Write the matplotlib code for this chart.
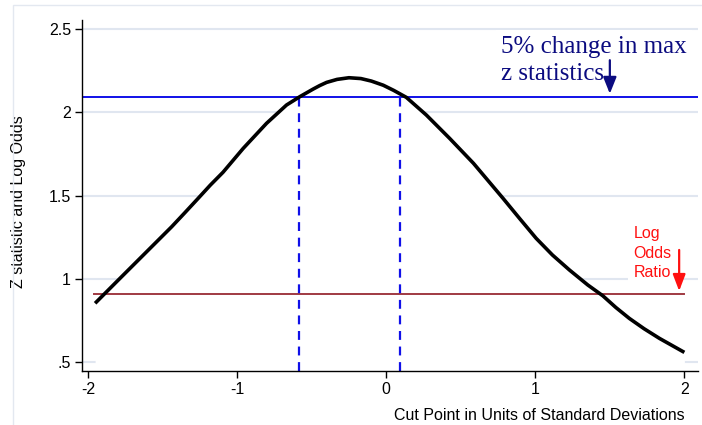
import matplotlib
matplotlib.use("Agg")
import matplotlib.pyplot as plt
from matplotlib.patches import Rectangle

# curve
cut_x = [-1.953, -1.797, -1.618, -1.439, -1.350, -1.261, -1.180, -1.095, -0.959,
         -0.803, -0.669, -0.580, -0.490, -0.446, -0.400, -0.330, -0.250, -0.170,
         -0.100, -0.020, 0.050, 0.135, 0.269, 0.425, 0.585, 0.783, 0.895, 1.006,
         1.115, 1.229, 1.352, 1.453, 1.540, 1.631, 1.730, 1.833, 2.000]
z_stat = [0.853, 0.993, 1.153, 1.313, 1.398, 1.484, 1.563, 1.640, 1.784,
          1.934, 2.044, 2.094, 2.140, 2.161, 2.180, 2.198, 2.208, 2.203,
          2.188, 2.163, 2.132, 2.090, 1.984, 1.844, 1.694, 1.484, 1.362, 1.243,
          1.143, 1.053, 0.963, 0.898, 0.828, 0.762, 0.700, 0.642, 0.558]

z_cut = 2.095          # 5% below max
log_odds = 0.91
cut_lo, cut_hi = -0.585, 0.09
odds_x = [-1.96, 2.0]

x_ticks = [-2, -1, 0, 1, 2]
x_labels = ["-2", "-1", "0", "1", "2"]
y_ticks = [0.5, 1, 1.5, 2, 2.5]
y_labels = [".5", "1", "1.5", "2", "2.5"]

plt.rcParams["font.family"] = ["Liberation Sans", "DejaVu Sans"]

fig = plt.figure(figsize=(7.02, 4.25), dpi=100)
ax = fig.add_axes([0.117, 0.127, 0.877, 0.826])

# light frame round the chart (only left and top edges fall inside the image)
fig.patches.append(Rectangle((0.018, -0.05), 1.1, 1.038, transform=fig.transFigure,
                             fill=False, edgecolor="#e3e8f0", lw=1.0))

ax.set_xlim(-2.04, 2.09)
ax.set_ylim(0.446, 2.555)

for y in y_ticks:
    ax.axhline(y, color="#e0e6f0", lw=1.5, zorder=0)

# white under the curve hides the grid
ax.fill_between(cut_x, z_stat, 0.446, color="white", zorder=1, lw=0)

ax.axhline(z_cut, color="#1010e8", lw=1.4, zorder=2)
ax.plot(odds_x, [log_odds, log_odds], color="#a03a42", lw=1.4, zorder=2)

ax.plot([cut_lo, cut_lo], [0.446, z_cut], color="#1010e8", lw=1.6,
        linestyle=(0, (4, 3)), zorder=2)
ax.plot([cut_hi, cut_hi], [0.446, z_cut], color="#1010e8", lw=1.6,
        linestyle=(0, (4, 3)), zorder=2)

ax.plot(cut_x, z_stat, color="black", lw=2.6, zorder=3,
        solid_capstyle="butt", solid_joinstyle="round")

# annotations
ax.text(0.77, 2.46, "5% change in max\nz statistics", color="#0b0b80",
        family=["Liberation Serif", "DejaVu Serif"], fontsize=18, va="top",
        ha="left", linespacing=1.3, zorder=4,
        bbox=dict(facecolor="white", edgecolor="none", pad=4))
ax.annotate("", xy=(1.5, z_cut), xytext=(1.5, 2.33),
            arrowprops=dict(arrowstyle="-|>,head_length=1.0,head_width=0.4",
                            color="#0b0b80", lw=1.6), zorder=5)

ax.text(1.658, 1.315, "Log\nOdds\nRatio", color="#ff1010", fontsize=11.5,
        va="top", ha="left", linespacing=1.38, zorder=4,
        bbox=dict(facecolor="white", edgecolor="none", pad=4))
ax.annotate("", xy=(1.965, log_odds), xytext=(1.965, 1.19),
            arrowprops=dict(arrowstyle="-|>,head_length=1.0,head_width=0.38",
                            color="#ff1010", lw=1.6), zorder=5)

ax.set_xticks(x_ticks)
ax.set_xticklabels(x_labels)
ax.set_yticks(y_ticks)
ax.set_yticklabels(y_labels)
ax.tick_params(direction="out", length=5, width=1, labelsize=11.5, pad=3)

for side in ("top", "right"):
    ax.spines[side].set_visible(False)
ax.spines["left"].set_linewidth(1)
ax.spines["bottom"].set_linewidth(1)

ax.set_ylabel("Z statistic and Log Odds", fontsize=11.5)
ax.yaxis.set_label_coords(-0.091, 0.482)
ax.set_xlabel("Cut Point in Units of Standard Deviations", fontsize=11.5)
ax.xaxis.set_label_coords(0.979, -0.105)
ax.xaxis.label.set_ha("right")

fig.savefig("out.png", dpi=100)
